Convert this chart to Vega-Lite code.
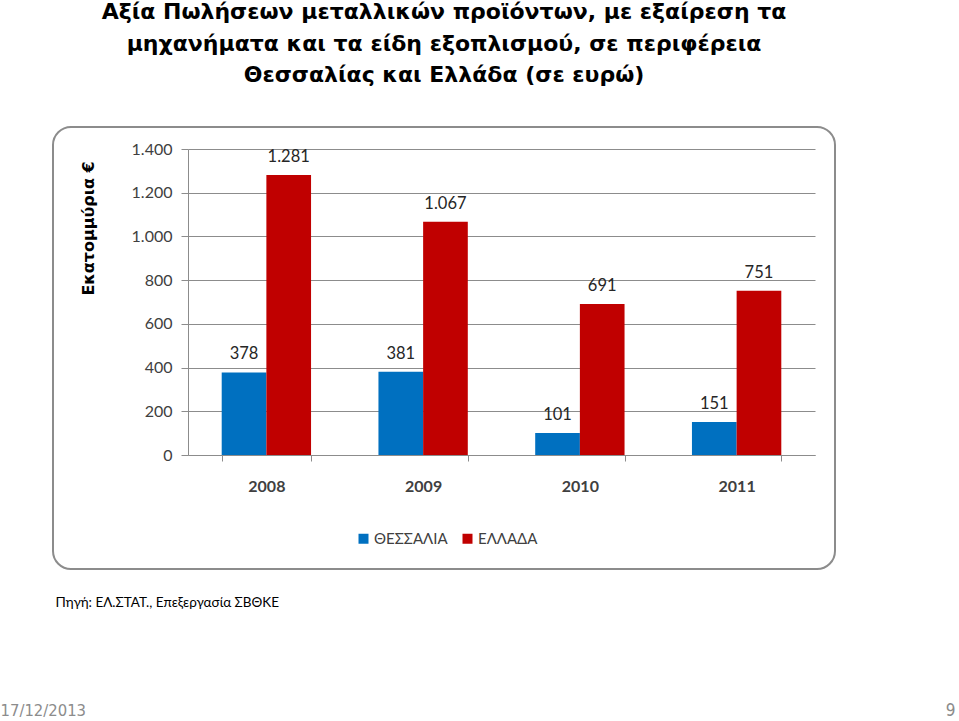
{
  "$schema": "https://vega.github.io/schema/vega-lite/v6.json",
  "width": 782,
  "height": 442,
  "autosize": {"type": "none"},
  "padding": {"left": 53, "top": 127, "right": 124, "bottom": 152},
  "background": "white",
  "config": {
    "locale": {"number": {"decimal": ",", "thousands": ".", "grouping": [3], "currency": ["", " €"]}},
    "view": {"stroke": "#8c8c8c", "strokeWidth": 2, "cornerRadius": 18, "fill": "white"},
    "font": "Lato"
  },
  "title": {
    "text": [
      "Αξία Πωλήσεων μεταλλικών προϊόντων, με εξαίρεση τα",
      "μηχανήματα και τα είδη εξοπλισμού, σε περιφέρεια",
      "Θεσσαλίας και Ελλάδα (σε ευρώ)"
    ],
    "font": "DejaVu Sans",
    "fontSize": 22,
    "fontWeight": "bold",
    "color": "black",
    "lineHeight": 31.5,
    "anchor": "middle",
    "offset": 40
  },
  "data": {
    "values": [
      {"year": "2008", "region": "ΘΕΣΣΑΛΙΑ", "value": 378},
      {"year": "2008", "region": "ΕΛΛΑΔΑ", "value": 1281},
      {"year": "2009", "region": "ΘΕΣΣΑΛΙΑ", "value": 381},
      {"year": "2009", "region": "ΕΛΛΑΔΑ", "value": 1067},
      {"year": "2010", "region": "ΘΕΣΣΑΛΙΑ", "value": 101},
      {"year": "2010", "region": "ΕΛΛΑΔΑ", "value": 691},
      {"year": "2011", "region": "ΘΕΣΣΑΛΙΑ", "value": 151},
      {"year": "2011", "region": "ΕΛΛΑΔΑ", "value": 751}
    ]
  },
  "layer": [
    {
      "mark": {"type": "bar"},
      "encoding": {
        "x": {
          "field": "year",
          "type": "nominal",
          "scale": {"range": [135, 762], "paddingInner": 0.43, "paddingOuter": 0.215},
          "axis": {
            "orient": "bottom",
            "offset": -114,
            "grid": false,
            "labelAngle": 0,
            "domainColor": "#8c8c8c",
            "tickColor": "#8c8c8c",
            "tickBand": "extent",
            "tickSize": 6,
            "labelFont": "Lato",
            "labelFontSize": 16,
            "labelFontWeight": "bold",
            "labelColor": "#404040",
            "labelPadding": 17,
            "title": "Πηγή: ΕΛ.ΣΤΑΤ., Επεξεργασία ΣΒΘΚΕ",
            "titleX": 2,
            "titleY": 147,
            "titleAngle": 0,
            "titleAlign": "left",
            "titleAnchor": "start",
            "titleBaseline": "middle",
            "titleFont": "Lato",
            "titleFontSize": 13.5,
            "titleFontWeight": "normal",
            "titleColor": "black"
          }
        },
        "xOffset": {
          "field": "region",
          "type": "nominal",
          "scale": {"domain": ["ΘΕΣΣΑΛΙΑ", "ΕΛΛΑΔΑ"], "paddingInner": 0, "paddingOuter": 0}
        },
        "y": {
          "field": "value",
          "type": "quantitative",
          "scale": {"domain": [0, 1400], "range": [328, 22], "nice": false},
          "axis": {
            "orient": "left",
            "offset": -135,
            "values": [0, 200, 400, 600, 800, 1000, 1200, 1400],
            "labelExpr": "format(datum.value, ',')",
            "grid": true,
            "gridColor": "#8c8c8c",
            "gridWidth": 1,
            "domainColor": "#8c8c8c",
            "tickColor": "#8c8c8c",
            "tickSize": 7,
            "labelPadding": 9,
            "labelFont": "Lato",
            "labelFontSize": 16,
            "labelColor": "#404040",
            "title": "Εκατομμύρια €",
            "titleX": -100,
            "titleY": 101,
            "titleAngle": 270,
            "titleAlign": "center",
            "titleBaseline": "middle",
            "titleFont": "DejaVu Sans",
            "titleFontSize": 16,
            "titleFontWeight": "bold",
            "titleColor": "black"
          }
        },
        "color": {
          "field": "region",
          "type": "nominal",
          "scale": {"domain": ["ΘΕΣΣΑΛΙΑ", "ΕΛΛΑΔΑ"], "range": ["#0070C0", "#C00000"]},
          "legend": {
            "orient": "none",
            "legendX": 303,
            "legendY": 404,
            "direction": "horizontal",
            "title": null,
            "symbolType": "square",
            "symbolSize": 100,
            "symbolStrokeWidth": 0,
            "symbolOpacity": 1,
            "labelFont": "Lato",
            "labelFontSize": 15,
            "labelColor": "#404040",
            "labelOffset": 3,
            "columnPadding": 12
          }
        }
      }
    },
    {
      "mark": {"type": "text", "baseline": "bottom", "dy": -10, "font": "Lato", "fontSize": 16.5, "color": "#262626"},
      "encoding": {
        "x": {
          "field": "year",
          "type": "nominal",
          "axis": {
            "orient": "top",
            "domain": false,
            "ticks": false,
            "labels": false,
            "grid": false,
            "title": "17/12/2013",
            "titleX": -53,
            "titleY": 583,
            "titleAngle": 0,
            "titleAlign": "left",
            "titleAnchor": "start",
            "titleBaseline": "middle",
            "titleFont": "DejaVu Sans Condensed",
            "titleFontSize": 16.5,
            "titleFontWeight": "normal",
            "titleColor": "#8c8c8c"
          }
        },
        "xOffset": {"field": "region", "type": "nominal"},
        "y": {
          "field": "value",
          "type": "quantitative",
          "axis": {
            "orient": "right",
            "domain": false,
            "ticks": false,
            "labels": false,
            "grid": false,
            "title": "9",
            "titleX": 115,
            "titleY": 583,
            "titleAngle": 0,
            "titleAlign": "center",
            "titleBaseline": "middle",
            "titleFont": "DejaVu Sans Condensed",
            "titleFontSize": 17,
            "titleFontWeight": "normal",
            "titleColor": "#8c8c8c"
          }
        },
        "text": {"field": "value", "type": "quantitative", "format": ","}
      }
    }
  ],
  "resolve": {"axis": {"x": "independent", "y": "independent"}}
}
